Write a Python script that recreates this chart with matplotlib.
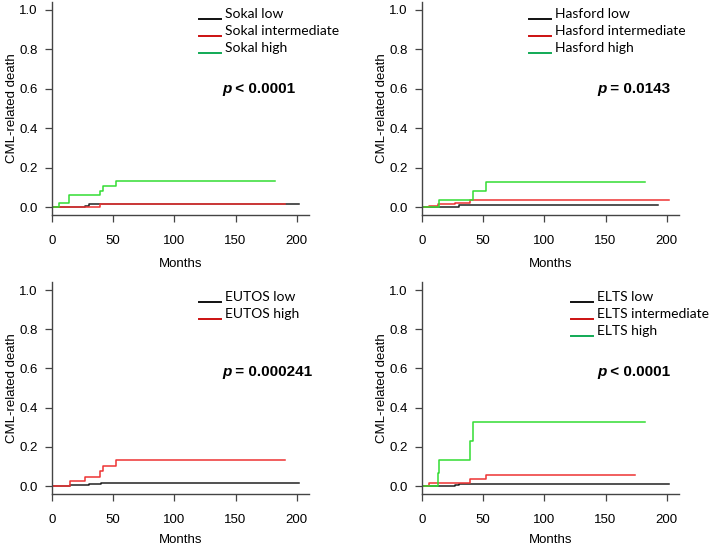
import matplotlib
matplotlib.use("Agg")
import numpy as np
import matplotlib.pyplot as plt
from matplotlib.legend_handler import HandlerLine2D

# ---- data (months, cumulative incidence) ----
sokal_low_t = [0, 27, 30, 202]
sokal_low_y = [0, 0.005, 0.017, 0.017]
sokal_int_t = [0, 39, 190]
sokal_int_y = [0, 0.015, 0.015]
sokal_high_t = [0, 6, 14, 39, 42, 52, 182]
sokal_high_y = [0, 0.022, 0.059, 0.08, 0.105, 0.135, 0.135]

hasford_low_t = [0, 30, 193]
hasford_low_y = [0, 0.01, 0.01]
hasford_int_t = [0, 6, 13, 27, 39, 202]
hasford_int_y = [0, 0.008, 0.015, 0.022, 0.035, 0.035]
hasford_high_t = [0, 14, 42, 52, 182]
hasford_high_y = [0, 0.037, 0.08, 0.125, 0.125]

eutos_low_t = [0, 7, 15, 30, 40, 202]
eutos_low_y = [0, 0.003, 0.008, 0.012, 0.017, 0.017]
eutos_high_t = [0, 15, 27, 39, 42, 52, 190]
eutos_high_y = [0, 0.025, 0.046, 0.075, 0.105, 0.134, 0.134]

elts_low_t = [0, 27, 30, 202]
elts_low_y = [0, 0.005, 0.01, 0.01]
elts_int_t = [0, 6, 39, 52, 174]
elts_int_y = [0, 0.017, 0.037, 0.056, 0.056]
elts_high_t = [0, 13, 14, 39, 42, 182]
elts_high_y = [0, 0.065, 0.135, 0.23, 0.325, 0.325]

p_labels = ["< 0.0001", "= 0.0143", "= 0.000241", "< 0.0001"]

line_cols = ["#222222", "#ee3333", "#33dd33"]
leg_cols = ["#111111", "#cc1111", "#11aa55"]

panels = [
    ("Sokal", [(sokal_low_t, sokal_low_y), (sokal_int_t, sokal_int_y), (sokal_high_t, sokal_high_y)],
     ["low", "intermediate", "high"], [0, 1, 2]),
    ("Hasford", [(hasford_low_t, hasford_low_y), (hasford_int_t, hasford_int_y), (hasford_high_t, hasford_high_y)],
     ["low", "intermediate", "high"], [0, 1, 2]),
    ("EUTOS", [(eutos_low_t, eutos_low_y), (eutos_high_t, eutos_high_y)],
     ["low", "high"], [0, 1]),
    ("ELTS", [(elts_low_t, elts_low_y), (elts_int_t, elts_int_y), (elts_high_t, elts_high_y)],
     ["low", "intermediate", "high"], [0, 1, 2]),
]

# axes rectangles in figure fractions
rects = [
    [0.0733, 0.6062, 0.3625, 0.390],
    [0.5952, 0.6062, 0.3625, 0.390],
    [0.0733, 0.0952, 0.3625, 0.388],
    [0.5952, 0.0952, 0.3625, 0.388],
]
leg_anchor = [(0.572, 0.970), (0.416, 0.970), (0.572, 0.957), (0.580, 0.957)]
p_x = [139, 143, 139, 143]
p_y = [0.60, 0.60, 0.58, 0.58]
xlab_pad = [8, 8, 6, 6]


class BaselineHandler(HandlerLine2D):
    # legend line sits near the text baseline, like the original
    def create_artists(self, legend, orig_handle, xdescent, ydescent,
                       width, height, fontsize, trans):
        arts = super().create_artists(legend, orig_handle, xdescent, ydescent,
                                      width, height, fontsize, trans)
        for a in arts:
            a.set_ydata(np.asarray(a.get_ydata()) - 0.42 * fontsize)
        return arts


plt.rcParams["font.family"] = ["Liberation Sans", "DejaVu Sans"]

fig = plt.figure(figsize=(7.09, 5.46), dpi=100)

for i, (name, curves, levels, cidx) in enumerate(panels):
    ax = fig.add_axes(rects[i])
    for (t, y), c in zip(curves, cidx):
        ax.step(t, y, where="post", color=line_cols[c], lw=1.1)
    ax.set_xlim(0, 210)
    ax.set_ylim(-0.04, 1.04)
    ax.set_xticks([0, 50, 100, 150, 200])
    ax.set_yticks([0, 0.2, 0.4, 0.6, 0.8, 1.0])
    ax.set_yticklabels(["0.0", "0.2", "0.4", "0.6", "0.8", "1.0"])
    for s in ["top", "right"]:
        ax.spines[s].set_visible(False)
    for s in ["left", "bottom"]:
        ax.spines[s].set_color("#444444")
        ax.spines[s].set_linewidth(1.0)
    ax.tick_params(length=5, width=0.9, color="#444444", labelsize=9.5)
    ax.tick_params(axis="x", pad=9.5)
    ax.tick_params(axis="y", pad=5.5)
    ax.set_xlabel("Months", fontsize=9.5, labelpad=xlab_pad[i])
    ax.set_ylabel("CML-related death", fontsize=9.5, labelpad=0.5)

    handles = [plt.Line2D([], [], color=leg_cols[c], lw=1.4) for c in cidx]
    ax.legend(handles, [name + " " + lv for lv in levels], loc="upper left",
              bbox_to_anchor=leg_anchor[i], frameon=False, borderpad=0,
              borderaxespad=0, handlelength=1.6, handletextpad=0.3,
              labelspacing=0.35, prop={"family": "Lato", "size": 10},
              handler_map={plt.Line2D: BaselineHandler()})

    tp = ax.text(p_x[i], p_y[i], "p", fontsize=11, fontweight="bold",
                 fontstyle="italic", va="center", ha="left")
    ax.annotate(" " + p_labels[i], xy=(1, 0), xycoords=tp, va="bottom",
                ha="left", fontsize=11, fontweight="bold")

fig.savefig("out.png", dpi=100)
